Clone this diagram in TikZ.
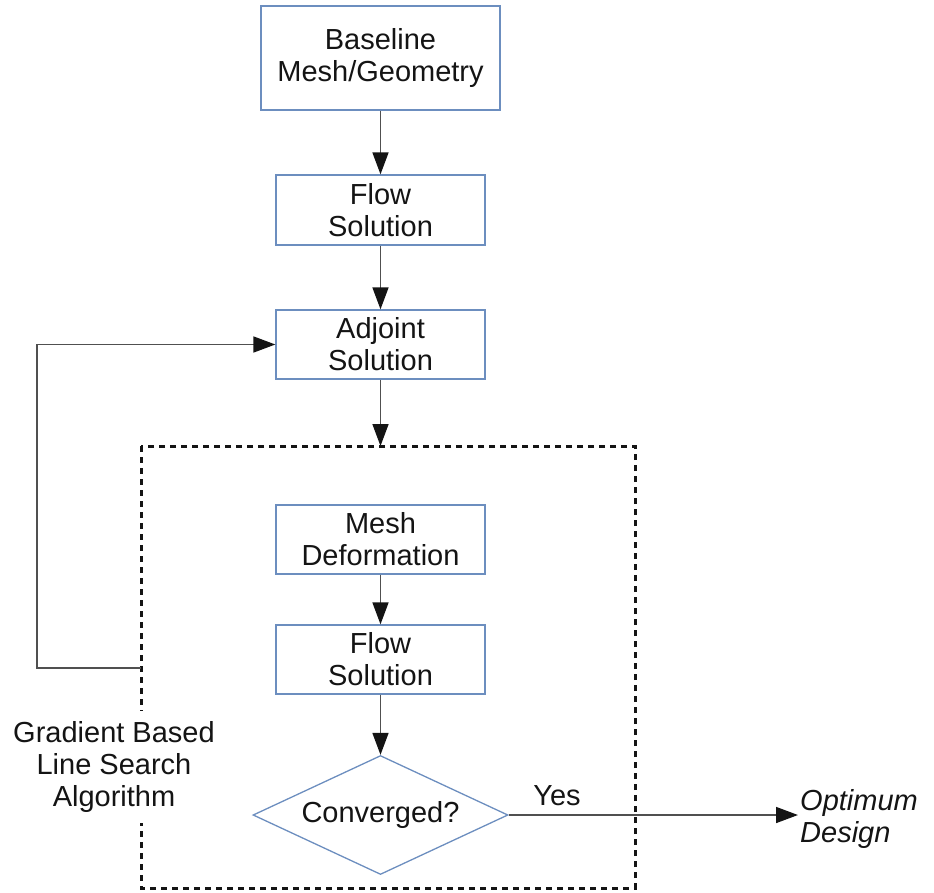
\documentclass[tikz,border=0pt]{standalone}
\usepackage{fontspec}
\setmainfont{Liberation Sans}
\usetikzlibrary{arrows.meta,shapes.geometric}
\definecolor{boxblue}{RGB}{108,142,191}
\definecolor{ink}{RGB}{20,20,20}
\definecolor{wire}{RGB}{80,80,80}
\begin{document}
\begin{tikzpicture}[x=1pt,y=-1pt,
  every node/.style={font=\fontsize{29}{32}\selectfont, text=ink},
  stepbox/.style={draw=boxblue, line width=1.3pt, minimum width=209pt,
    minimum height=69pt, align=center, inner sep=0pt},
  flow/.style={draw=wire, line width=1.6pt,
    -{Triangle[length=22pt,width=16pt,color=ink]}},
  fence/.style={draw=ink, line width=3pt, dash pattern=on 6pt off 5pt}]
\useasboundingbox (0,0) rectangle (934,892);

% main chain of steps
\node[stepbox, minimum width=239pt, minimum height=104pt] (base) at (380.5,58) {Baseline\\Mesh/Geometry};
\node[stepbox, minimum height=70pt] (flowa) at (380.5,210) {Flow\\Solution};
\node[stepbox] (adj) at (380.5,344.5) {Adjoint\\Solution};

% dashed frame around the line search
\draw[fence] (141,446) rectangle (635,888);
\coordinate (fencetop) at (380.5,446);
\coordinate (hook) at (141,668);
\coordinate (turn) at (37,668);

\node[stepbox] (mesh) at (380.5,539.5) {Mesh\\Deformation};
\node[stepbox] (flowb) at (380.5,659.5) {Flow\\Solution};
\node[draw=boxblue, line width=1.3pt, shape=diamond, aspect=2.14,
  minimum width=255pt, minimum height=119pt, inner sep=0pt] (conv) at (380.5,815) {Converged?};

\node[anchor=west, align=left, inner sep=2pt, font=\fontsize{29}{32}\selectfont\itshape] (opt) at (798,819) {Optimum\\Design};
\node (yes) at (557,796) {Yes};

\node[fill=white, align=center, inner xsep=2pt, inner ysep=10pt] (gbl) at (114,767) {Gradient Based\\Line Search\\Algorithm};

% connectors
\draw[flow] (base) -- (flowa);
\draw[flow] (flowa) -- (adj);
\draw[flow] (adj) -- (fencetop);
\draw[flow] (mesh) -- (flowb);
\draw[flow] (flowb) -- (conv);
\draw[flow] (conv.east) -- (conv.east -| opt.west);
\draw[flow] (hook) -- (turn) |- (adj.west);
\end{tikzpicture}
\end{document}
